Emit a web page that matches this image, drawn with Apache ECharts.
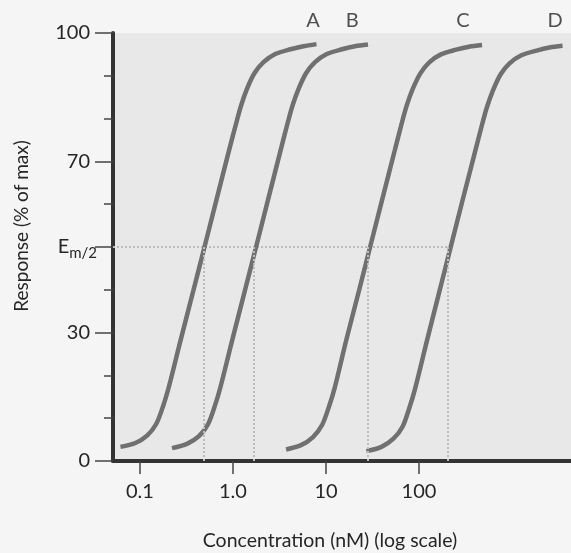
<!DOCTYPE html>
<html><head><meta charset="utf-8">
<script src="https://cdn.jsdelivr.net/npm/echarts@6/dist/echarts.min.js"></script>
<style>html,body{margin:0;padding:0;background:#f5f5f5;} #c{width:571px;height:553px;}</style>
</head><body><div id="c"></div>
<script>
// Concentrations in nM, responses in % of max
const curveNames = ['A', 'B', 'C', 'D'];
const concA = [0.0617, 0.0893, 0.120, 0.150, 0.179, 0.205, 0.274, 0.377, 0.494, 0.664, 0.910, 1.07, 1.22, 1.41, 1.70, 2.13, 2.85, 4.16, 5.72, 7.90];
const respA = [3.3, 4.2, 6.0, 8.7, 13.1, 17.4, 28.3, 40.0, 50.0, 61.0, 72.7, 78.5, 83.0, 86.9, 90.6, 93.2, 95.1, 96.2, 96.9, 97.4];
const concB = [0.221, 0.320, 0.431, 0.539, 0.641, 0.734, 0.983, 1.35, 1.77, 2.38, 3.26, 3.82, 4.36, 5.06, 6.10, 7.62, 10.2, 14.9, 20.5, 28.3];
const respB = [3.0, 4.0, 5.8, 8.6, 13.0, 17.3, 28.3, 40.0, 50.0, 61.0, 72.7, 78.5, 83.0, 86.9, 90.6, 93.2, 95.1, 96.2, 96.9, 97.3];
const concC = [3.72, 5.39, 7.25, 9.07, 10.8, 12.4, 16.5, 22.7, 29.8, 40.1, 54.9, 64.3, 73.4, 85.2, 103, 128, 172, 251, 345, 476];
const respC = [2.7, 3.7, 5.6, 8.4, 12.8, 17.1, 28.2, 39.9, 50.0, 61.0, 72.6, 78.4, 82.9, 86.8, 90.5, 93.1, 95.0, 96.1, 96.8, 97.2];
const concD = [27.2, 39.5, 53.1, 66.5, 79.0, 90.5, 121, 166, 218, 293, 402, 471, 538, 624, 752, 940, 1260, 1840, 2530, 3490];
const respD = [2.3, 3.3, 5.2, 8.0, 12.5, 16.8, 27.9, 39.7, 49.8, 60.8, 72.4, 78.2, 82.7, 86.6, 90.3, 92.9, 94.8, 95.9, 96.6, 97.0];
const ec50 = [0.48, 1.68, 28, 204];
const halfResponse = 50;
const xMinConc = 0.0513, xMaxConc = 4305;
const xTickValues = [0.1, 1, 10, 100];
const xTickLabels = ['0.1', '1.0', '10', '100'];
const yMajorValues = [0, 30, 50, 70, 100];
const yMajorLabels = ['0', '30', 'Em/2', '70', '100'];
const curveLabelConc = [7.25, 19.1, 297, 2900];
const curveLabelY = 103;

const lg = Math.log10;
const concs = [concA, concB, concC, concD];
const resps = [respA, respB, respC, respD];
const ink = '#262626';
const curveColor = '#707070';
const refColor = '#bcbcbc';
const FONT = 'Lato';

const chart = echarts.init(document.getElementById('c'), null, {renderer: 'canvas'});
const curveSeries = curveNames.map((n, k) => ({
  name: n, type: 'line', smooth: 0.3, symbol: 'none', z: 4,
  lineStyle: {color: curveColor, width: 4.5, cap: 'butt'},
  data: concs[k].map((c, i) => [lg(c), resps[k][i]])
}));

chart.setOption({
  animation: false,
  backgroundColor: '#f5f5f5',
  textStyle: {fontFamily: FONT, color: ink},
  grid: {left: 113, right: 0, top: 33, bottom: 92, show: true, backgroundColor: '#e8e8e8', borderWidth: 0},
  xAxis: {
    type: 'value', min: lg(xMinConc), max: lg(xMaxConc),
    axisLine: {onZero: false, lineStyle: {color: '#333', width: 4}},
    axisTick: {show: true, customValues: xTickValues.map(lg), length: 13, lineStyle: {color: '#444', width: 1.5}},
    axisLabel: {
      customValues: xTickValues.map(lg), margin: 21, fontSize: 20, color: ink, fontFamily: FONT,
      formatter: v => { const i = xTickValues.findIndex(t => Math.abs(lg(t) - v) < 1e-6); return i >= 0 ? xTickLabels[i] : ''; }
    },
    splitLine: {show: false}
  },
  yAxis: [{
    type: 'value', min: 0, max: 100, interval: 10, position: 'left',
    axisLine: {show: true, onZero: false, lineStyle: {color: '#333', width: 4}},
    axisTick: {show: true, length: 9, lineStyle: {color: '#444', width: 1.5}},
    axisLabel: {show: false}, splitLine: {show: false}
  }, {
    type: 'value', min: 0, max: 100, interval: 10, position: 'left',
    axisLine: {show: false, onZero: false},
    axisTick: {show: true, customValues: yMajorValues, length: 18, lineStyle: {color: '#444', width: 1.5}},
    axisLabel: {
      customValues: yMajorValues, margin: 16, color: ink, fontFamily: FONT,
      formatter: v => {
        const i = yMajorValues.indexOf(v);
        const t = yMajorLabels[i];
        if (t === 'Em/2') return '{e|E}{s|m/2}';
        return '{n|' + t + '}';
      },
      rich: {
        n: {fontSize: 20, color: ink, fontFamily: FONT, padding: [0, 7, 0, 0]},
        e: {fontSize: 20, color: ink, fontFamily: FONT},
        s: {fontSize: 15, color: ink, fontFamily: FONT, padding: [12, 0, 0, 0]}
      }
    },
    splitLine: {show: false}
  }],
  graphic: [
    {type: 'text', x: 22, y: 226, rotation: Math.PI / 2,
     style: {text: 'Response (% of max)', font: '19px ' + FONT, fill: ink, align: 'center', verticalAlign: 'middle'}},
    {type: 'text', x: 330, y: 541,
     style: {text: 'Concentration (nM) (log scale)', font: '19.5px ' + FONT, fill: ink, align: 'center', verticalAlign: 'middle'}}
  ],
  series: [
    {
      name: 'half', type: 'line', symbol: 'none', z: 2, silent: true,
      lineStyle: {color: refColor, width: 2, type: [2, 2]},
      data: [[lg(xMinConc), halfResponse], [lg(ec50[3]), halfResponse]],
      markLine: {
        silent: true, symbol: 'none', label: {show: false},
        lineStyle: {color: refColor, width: 2, type: [2, 2]},
        data: ec50.map(c => [{coord: [lg(c), halfResponse]}, {coord: [lg(c), 0]}])
      }
    },
    ...curveSeries,
    {
      name: 'labels', type: 'scatter', symbolSize: 0, clip: false, silent: true, z: 5,
      label: {show: true, position: 'inside', fontSize: 20, color: ink, fontFamily: FONT, formatter: p => curveNames[p.dataIndex]},
      data: curveLabelConc.map(c => [lg(c), curveLabelY])
    }
  ]
});
</script></body></html>
